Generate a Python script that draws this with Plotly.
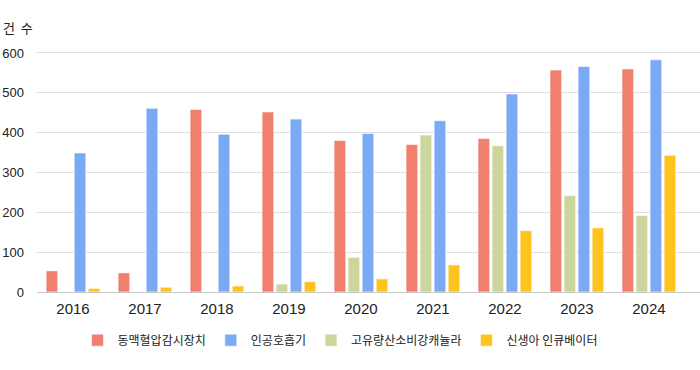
import plotly.graph_objects as go

years = ["2016", "2017", "2018", "2019", "2020", "2021", "2022", "2023", "2024"]
arterial = [53, 48, 458, 452, 380, 370, 385, 557, 560]        # 동맥혈압감시장치
hfnc = [0, 0, 0, 20, 87, 394, 367, 242, 192]                   # 고유량산소비강캐뉼라
ventilator = [349, 461, 396, 434, 398, 430, 497, 566, 583]     # 인공호흡기
incubator = [9, 12, 15, 26, 33, 68, 154, 161, 343]             # 신생아 인큐베이터

names = ["동맥혈압감시장치", "고유량산소비강캐뉼라", "인공호흡기", "신생아 인큐베이터"]
colors = ["#F07F6D", "#CCD69C", "#7BAAF5", "#FFC31F"]
ranks = [1, 3, 2, 4]
series = [arterial, hfnc, ventilator, incubator]

FONT = "Liberation Sans, Arial, Noto Sans CJK KR, sans-serif"

fig = go.Figure()
for name, vals, col, rk in zip(names, series, colors, ranks):
    fig.add_trace(go.Bar(
        x=years, y=vals, name=name, legendrank=rk,
        marker=dict(color=col, line=dict(color="rgba(255,255,255,0.6)", width=1)),
    ))

fig.update_layout(
    width=700, height=370,
    margin=dict(l=37, r=0, t=45, b=78),
    paper_bgcolor="white", plot_bgcolor="white",
    barmode="group", bargap=0.22, bargroupgap=0.17,
    font=dict(family=FONT, color="#222"),
    showlegend=True,
    legend=dict(orientation="h", x=0.457, xanchor="center", y=-0.195, yanchor="middle",
                font=dict(size=12, family="Noto Sans CJK KR, sans-serif", color="#222"),
                itemwidth=30, traceorder="normal"),
    xaxis=dict(type="category", range=[-0.5, 8.71], showgrid=False, showline=False,
               tickfont=dict(size=15, color="#222"), ticks="", ticklabelstandoff=6),
    yaxis=dict(range=[0, 620], tickvals=[0, 100, 200, 300, 400, 500, 600],
               showgrid=True, gridcolor="#DEDEDE", gridwidth=1,
               zeroline=True, zerolinecolor="#C8C8C8", zerolinewidth=1,
               tickfont=dict(size=13, color="#222"), ticks="", ticklabelstandoff=12),
    annotations=[dict(text="건\u00a0\u00a0수", xref="paper", yref="paper", x=-36/663, y=(292-28)/247,
                      xanchor="left", yanchor="middle", showarrow=False,
                      font=dict(size=13, family="Noto Sans CJK KR, sans-serif", color="#222"))],
)

fig.write_html("out.html", config={"displayModeBar": False},
               post_script="document.body.style.margin='0';document.body.style.overflow='hidden';")
